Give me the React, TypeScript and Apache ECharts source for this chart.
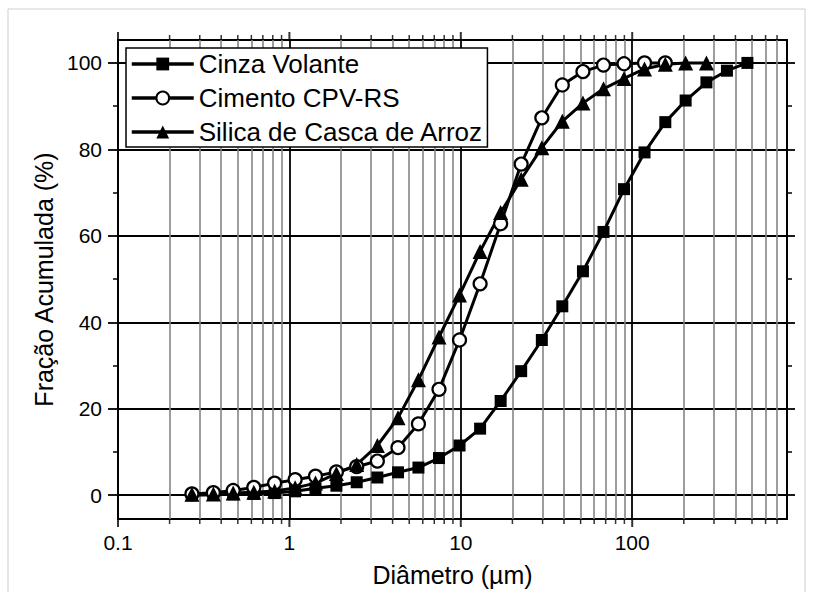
import React, { useEffect, useRef } from "react";
import * as echarts from "echarts";

// Particle diameters (µm) shared by the three curves
const DIAMETERS = [0.27, 0.36, 0.47, 0.62, 0.82, 1.08, 1.42, 1.88, 2.47, 3.26, 4.3, 5.66, 7.46, 9.83, 12.96, 17.08, 22.5, 29.7, 39.1, 51.6, 68, 89.6, 118, 156, 205, 271, 357, 470];

// Cumulative fraction (%)
const CINZA_VOLANTE = [0, 0.1, 0.2, 0.3, 0.5, 0.9, 1.6, 2.2, 3.0, 4.1, 5.3, 6.4, 8.6, 11.5, 15.4, 21.8, 28.7, 35.9, 43.7, 51.8, 60.9, 70.8, 79.3, 86.3, 91.3, 95.5, 98.2, 100];
const CIMENTO_CPV = [0.3, 0.6, 1.1, 1.8, 2.8, 3.6, 4.4, 5.4, 6.6, 7.9, 11.0, 16.5, 24.5, 35.9, 48.9, 62.8, 76.6, 87.3, 94.9, 98.0, 99.5, 99.8, 100, 100];
const SILICA_CASCA = [0.2, 0.3, 0.5, 0.7, 1.0, 1.7, 2.8, 5.0, 7.1, 11.5, 17.9, 26.7, 36.6, 46.3, 56.4, 65.4, 73.1, 80.4, 86.5, 90.7, 94.0, 96.4, 98.6, 99.7, 100, 100];

const SERIES_NAMES = ["Cinza Volante", "Cimento CPV-RS", "Silica de Casca de Arroz"];

// Axis ticks
const X_MIN = 0.1;
const X_MAX = 800;
const X_MAJOR = [0.1, 1, 10, 100];
const X_MINOR = [0.2, 0.3, 0.4, 0.5, 0.6, 0.7, 0.8, 0.9, 2, 3, 4, 5, 6, 7, 8, 9, 20, 30, 40, 50, 60, 70, 80, 90, 200, 300, 400, 500, 600, 700];
const Y_MIN = -5.5;
const Y_MAX = 105.3;
const Y_MAJOR = [0, 20, 40, 60, 80, 100];
const Y_MINOR = [10, 30, 50, 70, 90];

const FONT = '"Liberation Sans", Arial, Helvetica, sans-serif';

const pairs = (ys: number[]) => ys.map((y, i) => [DIAMETERS[i], y]);

export default function App() {
  const ref = useRef<HTMLDivElement>(null);

  useEffect(() => {
    if (!ref.current) return;
    const chart = echarts.init(ref.current, null, { renderer: "svg" });

    const tickSeries = (values: number[], y: number, len: number, down: boolean, w: number) => ({
      type: "scatter",
      silent: true,
      clip: false,
      xAxisIndex: 0,
      yAxisIndex: 0,
      z: 4,
      symbol: "rect",
      symbolSize: [w, len],
      symbolOffset: [0, down ? len / 2 : -len / 2],
      itemStyle: { color: "#000" },
      emphasis: { disabled: true },
      data: values.map((v) => [v, y]),
    });

    const yAxisBase = {
      type: "value",
      min: Y_MIN,
      max: Y_MAX,
      axisLine: { show: false },
      axisLabel: { show: false },
      splitLine: { show: false },
    };

    const lineBase = {
      type: "line",
      xAxisIndex: 0,
      yAxisIndex: 0,
      z: 5,
      lineStyle: { color: "#000", width: 3 },
      emphasis: { disabled: true },
    };

    chart.setOption({
      animation: false,
      backgroundColor: "#fff",
      textStyle: { fontFamily: FONT, color: "#000" },
      graphic: [
        {
          type: "rect",
          silent: true,
          z: -10,
          shape: { x: 8, y: 9, width: 797, height: 600 },
          style: { fill: "none", stroke: "#cfcfcf", lineWidth: 1 },
        },
      ],
      grid: {
        left: 118,
        right: 27,
        top: 40,
        bottom: 70,
        show: true,
        borderColor: "#000",
        borderWidth: 2,
        backgroundColor: "transparent",
        containLabel: false,
      },
      legend: {
        data: SERIES_NAMES,
        orient: "vertical",
        left: 126,
        top: 48,
        itemWidth: 62,
        itemHeight: 16,
        itemGap: 8,
        padding: [3, 4, 2, 4],
        backgroundColor: "#fff",
        borderColor: "#000",
        borderWidth: 1.5,
        borderRadius: 0,
        selectedMode: false,
        lineStyle: { width: 3.5 },
        textStyle: { fontSize: 26, fontFamily: FONT, color: "#000" },
        z: 10,
      },
      xAxis: [
        {
          type: "log",
          logBase: 10,
          min: X_MIN,
          max: X_MAX,
          axisLine: { show: false },
          axisTick: { show: false },
          axisLabel: {
            fontSize: 21,
            fontFamily: FONT,
            color: "#000",
            margin: 13,
            showMaxLabel: false,
          },
          splitLine: { show: true, lineStyle: { color: "#000", width: 1.8 } },
          name: "Diâmetro (µm)",
          nameLocation: "middle",
          nameGap: 43,
          nameTextStyle: { fontSize: 25, fontFamily: FONT, color: "#000" },
        },
      ],
      yAxis: [
        {
          type: "value",
          min: Y_MIN,
          max: Y_MAX,
          position: "left",
          axisLine: { show: false },
          axisTick: {
            show: true,
            length: 10,
            customValues: Y_MAJOR,
            lineStyle: { color: "#000", width: 1.8 },
          },
          axisLabel: {
            customValues: Y_MAJOR,
            fontSize: 21,
            fontFamily: FONT,
            color: "#000",
            margin: 16,
          },
          splitLine: { show: true, lineStyle: { color: "#000", width: 1.8 } },
          name: "Fração Acumulada (%)",
          nameLocation: "middle",
          nameGap: 58,
          nameTextStyle: { fontSize: 25, fontFamily: FONT, color: "#000" },
        },
        {
          ...yAxisBase,
          position: "left",
          axisTick: { show: true, length: 5, customValues: Y_MINOR, lineStyle: { color: "#000", width: 1.5 } },
        },
        {
          ...yAxisBase,
          position: "right",
          axisTick: { show: true, length: 8, customValues: Y_MAJOR, lineStyle: { color: "#000", width: 1.8 } },
        },
        {
          ...yAxisBase,
          position: "right",
          axisTick: { show: true, length: 5, customValues: Y_MINOR, lineStyle: { color: "#000", width: 1.5 } },
        },
      ],
      series: [
        {
          type: "line",
          name: "_minorGrid",
          xAxisIndex: 0,
          yAxisIndex: 0,
          data: [],
          silent: true,
          z: 1,
          markLine: {
            silent: true,
            symbol: ["none", "none"],
            label: { show: false },
            emphasis: { disabled: true },
            lineStyle: { color: "#858585", width: 1.6, type: "solid" },
            data: X_MINOR.map((v) => ({ xAxis: v })),
          },
        },
        tickSeries(X_MAJOR, Y_MIN, 8, true, 2),
        tickSeries(X_MINOR, Y_MIN, 5, true, 1.5),
        tickSeries(X_MAJOR, Y_MAX, 8, false, 2),
        tickSeries(X_MINOR, Y_MAX, 5, false, 1.5),
        {
          ...lineBase,
          name: SERIES_NAMES[0],
          symbol: "rect",
          symbolSize: 12,
          itemStyle: { color: "#000" },
          data: pairs(CINZA_VOLANTE),
        },
        {
          ...lineBase,
          name: SERIES_NAMES[1],
          symbol: "circle",
          symbolSize: 13,
          itemStyle: { color: "#fff", borderColor: "#000", borderWidth: 2.2 },
          data: pairs(CIMENTO_CPV),
        },
        {
          ...lineBase,
          name: SERIES_NAMES[2],
          symbol: "triangle",
          symbolSize: 15,
          itemStyle: { color: "#000" },
          data: pairs(SILICA_CASCA),
        },
      ],
    });

    return () => chart.dispose();
  }, []);

  return (
    <div
      ref={ref}
      style={{ position: "fixed", left: 0, top: 0, width: 814, height: 592, background: "#fff" }}
    />
  );
}
